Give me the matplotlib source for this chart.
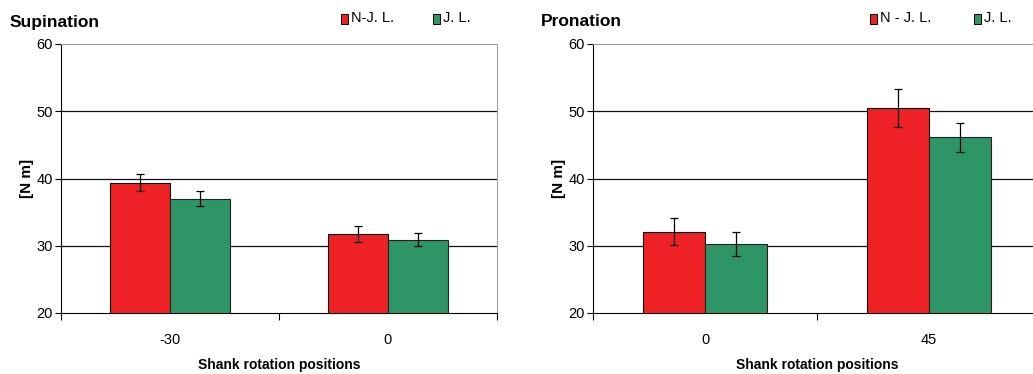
import matplotlib.pyplot as plt
from matplotlib.patches import Rectangle

plt.rcParams['font.family'] = ['Liberation Sans', 'DejaVu Sans']

# Supination panel
sup_positions = ["-30", "0"]
sup_njl = [39.4, 31.7]
sup_njl_err = [1.3, 1.2]
sup_jl = [37.0, 30.9]
sup_jl_err = [1.15, 1.0]

# Pronation panel
pro_positions = ["0", "45"]
pro_njl = [32.1, 50.5]
pro_njl_err = [2.0, 2.8]
pro_jl = [30.3, 46.1]
pro_jl_err = [1.8, 2.1]

red = '#ee2224'
green = '#2e9566'
bar_w = 0.275


def draw_panel(ax, positions, njl, njl_err, jl, jl_err):
    xs = range(len(positions))
    ax.bar([x - bar_w / 2 for x in xs], njl, bar_w, color=red,
           edgecolor='black', linewidth=0.8, zorder=3)
    ax.bar([x + bar_w / 2 for x in xs], jl, bar_w, color=green,
           edgecolor='#222222', linewidth=0.8, zorder=3)
    ax.errorbar([x - bar_w / 2 for x in xs], njl, yerr=njl_err, fmt='none',
                ecolor='black', elinewidth=0.9, capsize=3, capthick=0.9, zorder=4)
    ax.errorbar([x + bar_w / 2 for x in xs], jl, yerr=jl_err, fmt='none',
                ecolor='black', elinewidth=0.9, capsize=3, capthick=0.9, zorder=4)
    ax.set_ylim(20, 60)
    ax.set_xlim(-0.5, len(positions) - 0.5)
    ax.set_yticks([20, 30, 40, 50, 60])
    ax.tick_params(axis='y', labelsize=10.5, length=4, width=0.8, pad=2)
    for y in [30, 40, 50]:
        ax.axhline(y, color='#111111', lw=0.9, zorder=1)
    ax.set_xticks([-0.5, 0.5, 1.5])
    ax.set_xticklabels([])
    ax.tick_params(axis='x', length=5, width=0.8)
    for x, lab in zip(xs, positions):
        ax.text(x, -0.1, lab, transform=ax.get_xaxis_transform(),
                ha='center', va='center', fontsize=10.5)
    ax.spines['top'].set_color('#a0a0a0')
    ax.spines['right'].set_color('#a0a0a0')
    ax.spines['left'].set_linewidth(0.8)
    ax.spines['bottom'].set_linewidth(0.8)
    ax.set_xlabel('Shank rotation positions', fontsize=10, fontweight='bold', labelpad=24)
    ax.set_ylabel('[N m]', fontsize=11, fontweight='bold', labelpad=2)
    return ax


fig = plt.figure(figsize=(10.33, 3.74), dpi=100)
ax1 = fig.add_axes([61 / 1033, 61 / 374, 436 / 1033, 269 / 374])
ax2 = fig.add_axes([593 / 1033, 61 / 374, 448 / 1033, 269 / 374])

draw_panel(ax1, sup_positions, sup_njl, sup_njl_err, sup_jl, sup_jl_err)
draw_panel(ax2, pro_positions, pro_njl, pro_njl_err, pro_jl, pro_jl_err)
ax2.spines['right'].set_visible(False)

fig.text(10 / 1033, 1 - 22 / 374, 'Supination', fontsize=12.5, fontweight='bold', va='center')
fig.text(541 / 1033, 1 - 22 / 374, 'Pronation', fontsize=12.5, fontweight='bold', va='center')

# legends drawn as small squares with labels
legend_items = [(341, 'N-J. L.', red), (433, 'J. L.', green),
                (870, 'N - J. L.', red), (974, 'J. L.', green)]
for px, lab, col in legend_items:
    fig.patches.append(Rectangle((px / 1033, 1 - 24 / 374), 7 / 1033, 10 / 374,
                                 transform=fig.transFigure, facecolor=col,
                                 edgecolor='black', linewidth=0.7))
    fig.text((px + 10) / 1033, 1 - 18 / 374, lab, fontsize=10.5, va='center')

fig.savefig('out.png', dpi=100)
